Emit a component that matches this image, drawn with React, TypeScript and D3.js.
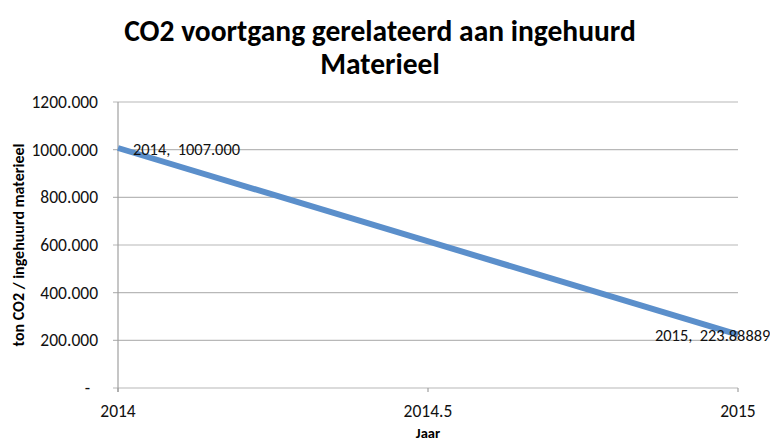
import React, { useEffect, useRef } from "react";
import * as d3 from "d3";

const years = [2014, 2015];
const co2Values = [1007.0, 223.88889];
const pointLabels = ["2014,  1007.000", "2015,  223.88889"];
const yTicks = [0, 200, 400, 600, 800, 1000, 1200];
const xTicks = [2014, 2014.5, 2015];

function App() {
  const ref = useRef<SVGSVGElement>(null);

  useEffect(() => {
    const svg = d3.select(ref.current);
    svg.selectAll("*").remove();
    const font = "Carlito, 'Open Sans', 'Liberation Sans', sans-serif";
    const margin = { left: 118, top: 102, right: 32, bottom: 53 };
    const width = 770;
    const height = 441;
    const innerW = width - margin.left - margin.right;
    const innerH = height - margin.top - margin.bottom;

    const x = d3.scaleLinear().domain([2014, 2015]).range([0, innerW]);
    const y = d3.scaleLinear().domain([0, 1200]).range([innerH, 0]);

    svg.append("rect").attr("width", width).attr("height", height).attr("fill", "#fff");

    const g = svg.append("g").attr("transform", `translate(${margin.left},${margin.top})`);

    // gridlines
    g.selectAll("line.grid")
      .data(yTicks)
      .enter()
      .append("line")
      .attr("x1", -5)
      .attr("x2", innerW)
      .attr("y1", (d) => y(d))
      .attr("y2", (d) => y(d))
      .attr("stroke", "#b8b8b8")
      .attr("stroke-width", 1.2);

    g.append("line")
      .attr("x1", 0)
      .attr("x2", 0)
      .attr("y1", 0)
      .attr("y2", innerH + 4)
      .attr("stroke", "#a0a0a0")
      .attr("stroke-width", 1.2);

    g.selectAll("line.xtick")
      .data(xTicks)
      .enter()
      .append("line")
      .attr("x1", (d) => x(d))
      .attr("x2", (d) => x(d))
      .attr("y1", innerH)
      .attr("y2", innerH + 4)
      .attr("stroke", "#a0a0a0")
      .attr("stroke-width", 1.2);

    g.selectAll("text.ylab")
      .data(yTicks)
      .enter()
      .append("text")
      .attr("x", (d) => (d === 0 ? -28 : -20))
      .attr("y", (d) => y(d) + 6)
      .attr("text-anchor", "end")
      .attr("font-family", font)
      .attr("font-size", 17.5)
      .attr("fill", "#111")
      .text((d) => (d === 0 ? "-" : d3.format(".3f")(d)));

    g.selectAll("text.xlab")
      .data(xTicks)
      .enter()
      .append("text")
      .attr("x", (d) => x(d))
      .attr("y", innerH + 29)
      .attr("text-anchor", "middle")
      .attr("font-family", font)
      .attr("font-size", 17.5)
      .attr("fill", "#111")
      .text((d) => String(d));

    const data = years.map((yr, i) => ({ yr, v: co2Values[i], label: pointLabels[i] }));
    const line = d3
      .line<{ yr: number; v: number }>()
      .x((d) => x(d.yr))
      .y((d) => y(d.v));
    g.append("path")
      .datum(data)
      .attr("d", line)
      .attr("fill", "none")
      .attr("stroke", "#5B8FCB")
      .attr("stroke-width", 6);

    g.selectAll("text.plab")
      .data(data)
      .enter()
      .append("text")
      .attr("x", (d, i) => x(d.yr) + (i === 0 ? 15 : -83))
      .attr("y", (d, i) => y(d.v) + (i === 0 ? 7 : 6.5))
      .attr("font-family", font)
      .attr("font-size", 16.4)
      .attr("fill", "#111")
      .attr("xml:space", "preserve")
      .style("white-space", "pre")
      .text((d) => d.label);

    const titleLines = ["CO2 voortgang gerelateerd aan ingehuurd", "Materieel"];
    svg.selectAll("text.title")
      .data(titleLines)
      .enter()
      .append("text")
      .attr("x", 380)
      .attr("y", (d, i) => 41 + i * 33)
      .attr("text-anchor", "middle")
      .attr("font-family", font)
      .attr("font-weight", "bold")
      .attr("font-size", 29.5)
      .attr("fill", "#000")
      .text((d) => d);

    svg.append("text")
      .attr("x", 428)
      .attr("y", 438)
      .attr("text-anchor", "middle")
      .attr("font-family", font)
      .attr("font-weight", "bold")
      .attr("font-size", 14.5)
      .attr("fill", "#000")
      .text("Jaar");

    svg.append("text")
      .attr("transform", `translate(24,${margin.top + innerH / 2}) rotate(-90)`)
      .attr("text-anchor", "middle")
      .attr("font-family", font)
      .attr("font-weight", "bold")
      .attr("font-size", 16)
      .attr("fill", "#000")
      .text("ton CO2 / ingehuurd materieel");
  }, []);

  return (
    <svg
      ref={ref}
      width={770}
      height={441}
      style={{ position: "absolute", left: 0, top: 0, display: "block" }}
    />
  );
}

export default App;
